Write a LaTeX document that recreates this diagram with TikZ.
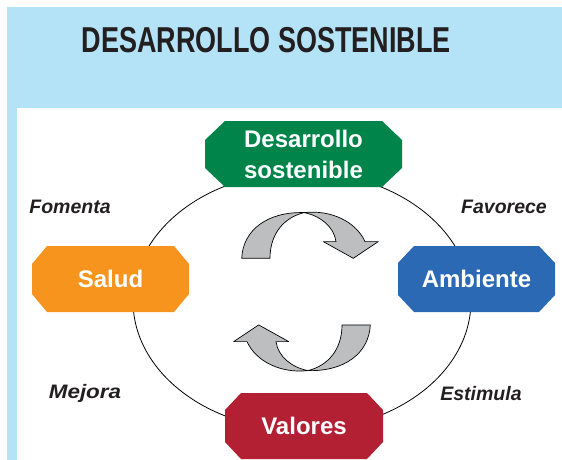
\documentclass[tikz,border=0pt]{standalone}
\usepackage{fontspec}
\setmainfont{Liberation Sans}
\newfontfamily\titlefont[FakeStretch=0.75]{Liberation Sans}
\newfontfamily\wideitfont[FakeStretch=1.15]{Liberation Sans}
\usepackage{xcolor}
\usepackage{tikz}
\usetikzlibrary{shapes, backgrounds}

\definecolor{frameblue}{RGB}{180,227,247}
\definecolor{dsgreen}{RGB}{0,132,74}
\definecolor{salorange}{RGB}{247,148,30}
\definecolor{ambblue}{RGB}{43,105,180}
\definecolor{valred}{RGB}{179,31,51}
\definecolor{arrgray}{RGB}{188,190,192}
\definecolor{inkdark}{RGB}{35,31,32}

% twisted cycle arrow, drawn round (0,0)
\newcommand{\cyclearrow}{%
  \filldraw[ribbon] (-64.3,-33.3) .. controls (-63,-62) and (-38,-80) .. (-2,-79)
    .. controls (-22,-74) and (-36,-58) .. (-36,-33.3) -- cycle;
  \filldraw[ribbon] (-2,-79) .. controls (25,-82) and (50,-70) .. (59,-50)
    -- (72.3,-50) -- (47.3,-33.3) -- (17.3,-50) -- (30,-50)
    .. controls (28,-65) and (14,-76) .. (-2,-79) -- cycle;
}

\begin{document}
\begin{tikzpicture}[x=1pt, y=-1pt,
  hub/.style n args={3}{rectangle, inner sep=0pt, minimum width=157pt, minimum height=66pt,
              text=white, align=center, font=\bfseries\fontsize{24}{31}\selectfont,
              path picture={\fill[#1]
                ([xshift=#2]path picture bounding box.north west)
                -- ([xshift=-#2]path picture bounding box.north east)
                -- ([yshift=-#3]path picture bounding box.north east)
                -- ([yshift=#3]path picture bounding box.south east)
                -- ([xshift=-#2]path picture bounding box.south east)
                -- ([xshift=#2]path picture bounding box.south west)
                -- ([yshift=#3]path picture bounding box.south west)
                -- ([yshift=-#3]path picture bounding box.north west) -- cycle;}},
  lbl/.style={font=\bfseries\itshape\fontsize{19.5}{22}\selectfont, text=inkdark},
  ribbon/.style={fill=arrgray, draw=black, line width=0.7pt, line join=round},
]
\useasboundingbox (0,0) rectangle (562,460);

% frame
\fill[frameblue] (7,7) rectangle (562,108);
\fill[frameblue] (7,108) rectangle (17,460);
\node[font=\titlefont\bfseries\fontsize{36}{40}\selectfont, text=inkdark] (title) at (266.5,40) {DESARROLLO SOSTENIBLE};

\draw[line width=0.8pt] (302,301) ellipse [x radius=169, y radius=129];

\node[hub={dsgreen}{20pt}{19pt}, minimum width=197pt] (ds)  at (303.5,154) {Desarrollo\\sostenible};
\node[hub={salorange}{15pt}{18pt}]                    (sal) at (110.5,279) {Salud};
\node[hub={ambblue}{16pt}{17pt}]                      (amb) at (476.5,279) {Ambiente};
\node[hub={valred}{16pt}{17pt}, minimum width=158pt]  (val) at (304,426)   {Valores};

\node[lbl] (fom) at (70,207)  {Fomenta};
\node[lbl] (fav) at (504,207) {Favorece};
\node[lbl, font=\wideitfont\bfseries\itshape\fontsize{19.5}{22}\selectfont] (mej) at (85,393) {Mejora};
\node[lbl] (est) at (481,394) {Estimula};

\begin{scope}[shift={(306,291.6)}]
  \cyclearrow
\end{scope}
\begin{scope}[shift={(306,291.6)}, rotate=180]
  \cyclearrow
\end{scope}
\end{tikzpicture}
\end{document}
